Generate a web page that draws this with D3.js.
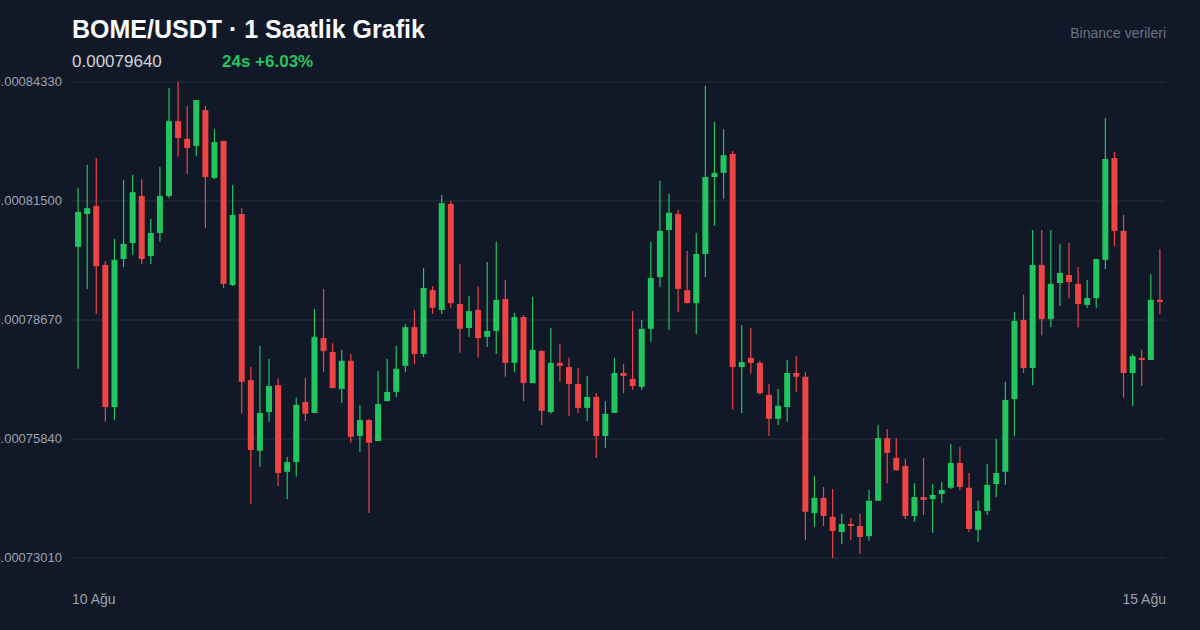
<!DOCTYPE html>
<html><head><meta charset="utf-8">
<script src="https://cdn.jsdelivr.net/npm/d3@7"></script>
<style>html,body{margin:0;background:#111827;}svg{display:block;font-family:"Liberation Sans",Arial,sans-serif;}</style>
</head><body><svg id="c" width="1200" height="630"></svg>
<script>
// prices in units of 1e-8 USDT
const openE8 = [80410,81190,81380,79980,76600,80120,80500,81620,80190,80740,81620,83400,82980,82810,83660,82050,82930,79500,81190,77240,
75560,76480,77120,75060,75290,76720,76460,78240,77910,77030,77700,75910,76290,75790,76740,76960,77580,78500,77860,79380,
78910,81430,79050,78480,78910,78270,78410,79170,77650,78740,77170,77930,76480,77650,77550,77150,76580,76840,75910,76460,
77410,77270,77080,78460,79690,80810,81190,79380,79070,80240,82070,82170,82620,77550,77770,77650,76890,76320,76600,77410,
77320,74080,74440,73990,73630,73820,73770,73530,74370,75860,75390,75200,74010,74460,74410,74530,74680,75270,74680,73680,
74130,74770,75060,76790,78670,77530,79980,78690,79550,79740,79530,79030,79190,80100,82520,80790,77410,77770,77720,79150];
const highE8 = [81810,82360,82520,80070,80600,82000,82120,82020,81070,82310,84190,84330,83760,83900,83760,83210,82930,81880,81330,77550,
78050,77740,77270,75410,76820,77290,78930,79410,78120,77960,77860,76650,76320,77460,77740,78050,78570,78910,79910,79480,
81640,81500,80000,79240,79460,80050,80530,79620,78840,78790,79220,77960,78480,78100,77770,77530,77340,76930,76740,77770,
77620,78880,78670,80530,81980,81670,81290,80310,80740,84240,83380,83210,82690,78550,78480,77700,77150,77030,77720,77810,
77430,74960,74700,74650,74060,73960,74060,74630,76170,76080,75860,75370,74790,75390,74770,74820,75720,75650,75030,74370,
75250,75840,77200,78860,79270,80810,80810,80810,80480,80500,79930,79620,80120,83470,82670,81170,77860,77960,79760,80360];
const lowE8 = [77510,79410,78810,76250,76290,79930,80220,80000,80000,80530,81570,82550,82140,82570,80860,82020,79430,79480,76440,74300,
75180,76250,74720,74410,74940,76270,76460,77430,77050,76700,75750,75530,74080,75790,76740,76840,77430,77620,77790,78810,
78810,78960,77890,78270,77770,78030,77860,77320,77430,76740,77170,76170,76440,77200,76390,76460,76270,75390,75630,76460,
76930,77010,77010,78150,79460,78430,78860,79070,78340,79690,80910,81550,76550,76460,77390,76890,75910,76170,76250,76960,
73440,73750,73770,73010,73340,73440,73110,73420,74370,74790,75080,73940,73870,74030,73610,74320,74650,74630,73630,73390,
74030,74460,74750,75910,77410,77120,78310,78500,79000,79190,78500,78960,78960,79880,80430,76820,76630,77100,77720,78810];
const closeE8 = [81240,81330,79950,76600,80100,80480,81710,80120,80740,81620,83400,83000,82760,83900,82070,82900,79530,81170,77200,75580,
76460,77100,75030,75290,76650,76440,78270,77930,77050,77700,75890,76290,75750,76670,76960,77510,78500,77860,79430,78960,
81450,79070,78460,78880,78240,78410,79150,77650,78740,77170,77960,76510,77650,77580,77150,76580,76840,75910,76440,77410,
77340,77100,78460,79670,80790,81220,79410,79070,80240,82070,82170,82590,77550,77670,77650,76930,76320,76630,77410,77320,
74110,74440,74010,73650,73820,73770,73510,74370,75860,75510,75100,74010,74460,74390,74510,74630,75270,74700,73700,74130,
74750,75030,76770,78650,77530,79980,78690,79530,79790,79570,79050,79190,80120,82500,80790,77410,77810,77720,79150,79100];
const yTickLabels = ["0.00084330","0.00081500","0.00078670","0.00075840","0.00073010"];
const xLabels = ["10 Ağu","15 Ağu"];
const titleText = "BOME/USDT · 1 Saatlik Grafik";
const lastPrice = "0.00079640";
const change24 = "24s +6.03%";
const sourceText = "Binance verileri";

const E = 1e-8;
const data = openE8.map((o,i)=>({i,o:o*E,h:highE8[i]*E,l:lowE8[i]*E,c:closeE8[i]*E}));
const svg = d3.select("#c");
svg.append("rect").attr("width",1200).attr("height",630).attr("fill","#111827");
const L=72,R=1166,T=82,B=558;
const y = d3.scaleLinear().domain([+yTickLabels[4],+yTickLabels[0]]).range([B,T]);
const x = d3.scaleBand().domain(data.map(d=>d.i)).range([L,R]).padding(0.34);
const green="#22c55e", red="#ef4444";

const ticks = yTickLabels.map(Number);
svg.append("g").selectAll("line").data(ticks).join("line")
  .attr("x1",L).attr("x2",R).attr("y1",d=>y(d)).attr("y2",d=>y(d))
  .attr("stroke","#1f2937").attr("stroke-width",1.5);
svg.append("g").selectAll("text").data(ticks).join("text")
  .attr("x",62).attr("y",d=>y(d)+4).attr("text-anchor","end")
  .attr("fill","#9ca3af").attr("font-size",13).text((d,i)=>yTickLabels[i]);

const g = svg.append("g");
const cx = d=>x(d.i)+x.bandwidth()/2;
g.selectAll("line.w").data(data).join("line").attr("class","w")
  .attr("x1",cx).attr("x2",cx).attr("y1",d=>y(d.h)).attr("y2",d=>y(d.l))
  .attr("stroke",d=>d.c>=d.o?green:red).attr("stroke-width",1.2);
g.selectAll("rect.b").data(data).join("rect").attr("class","b")
  .attr("x",d=>x(d.i)).attr("width",x.bandwidth())
  .attr("y",d=>y(Math.max(d.o,d.c)))
  .attr("height",d=>Math.max(1.5,Math.abs(y(d.o)-y(d.c))))
  .attr("fill",d=>d.c>=d.o?green:red);

svg.append("text").attr("x",L).attr("y",604).attr("fill","#9ca3af").attr("font-size",14).text(xLabels[0]);
svg.append("text").attr("x",R).attr("y",604).attr("text-anchor","end").attr("fill","#9ca3af").attr("font-size",14).text(xLabels[1]);

svg.append("text").attr("x",L).attr("y",38).attr("fill","#f9fafb").attr("font-size",25).attr("font-weight","bold").text(titleText);
svg.append("text").attr("x",L).attr("y",67).attr("fill","#d1d5db").attr("font-size",17).text(lastPrice);
svg.append("text").attr("x",222).attr("y",67).attr("fill",green).attr("font-size",17).attr("font-weight","bold").text(change24);
svg.append("text").attr("x",R).attr("y",38).attr("text-anchor","end").attr("fill","#6b7280").attr("font-size",14).text(sourceText);
</script></body></html>
